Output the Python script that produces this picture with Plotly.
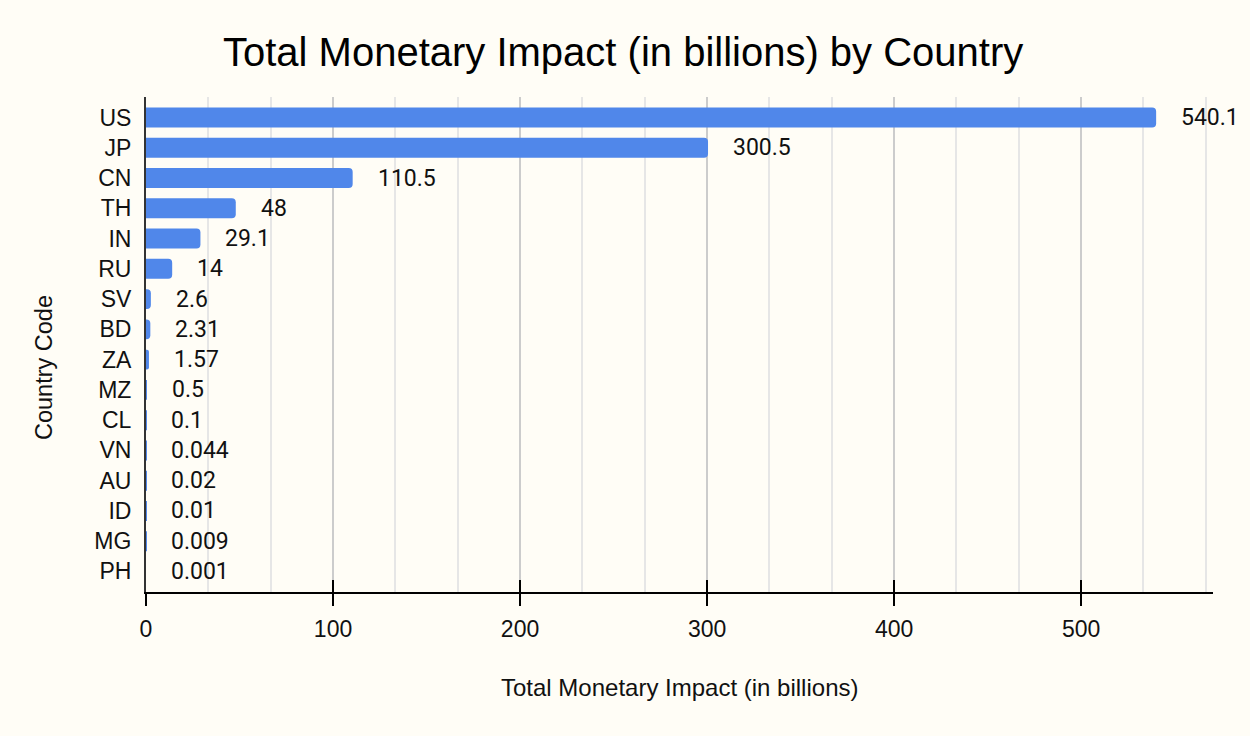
import plotly.graph_objects as go

countries = ["US", "JP", "CN", "TH", "IN", "RU", "SV", "BD", "ZA", "MZ", "CL", "VN", "AU", "ID", "MG", "PH"]
impact = [540.1, 300.5, 110.5, 48, 29.1, 14, 2.6, 2.31, 1.57, 0.5, 0.1, 0.044, 0.02, 0.01, 0.009, 0.001]
x_ticks = [0, 100, 200, 300, 400, 500]

BG = "#FFFDF6"
BAR = "#5087EA"
TXT = "#111111"
ARIAL = "Liberation Sans, Arial, sans-serif"
LABEL_FONT = "Roboto, Liberation Sans, sans-serif"

fig = go.Figure()
fig.add_trace(go.Bar(
    x=impact, y=countries, orientation="h",
    marker=dict(color=BAR, line=dict(width=0), cornerradius=4),
    hoverinfo="x+y", showlegend=False,
))
# invisible trace so the overlay axis (inner half of tick marks) is drawn
fig.add_trace(go.Scatter(x=[x_ticks[0]], y=[countries[0]], xaxis="x2", mode="markers",
                         marker=dict(opacity=0), hoverinfo="skip", showlegend=False))

for v, c in zip(impact, countries):
    fig.add_annotation(x=v, y=c, text=f"{v:g}", showarrow=False, xanchor="left",
                       xshift=23, yshift=0, font=dict(family=LABEL_FONT, size=23, color=TXT))

n = len(countries)
fig.update_layout(
    width=1250, height=736,
    paper_bgcolor=BG, plot_bgcolor=BG,
    margin=dict(l=146, r=37, t=97, b=144),
    bargap=0.34,
    title=dict(text="Total Monetary Impact (in billions) by Country", x=0.4985, xanchor="center",
               y=1 - 52 / 736, yanchor="middle", yref="container",
               font=dict(family=ARIAL, size=40, color="#000000")),
    xaxis=dict(range=[0, 570.5], tickvals=x_ticks, ticks="outside", ticklen=12, tickwidth=2,
               tickcolor="#000000", showline=True, linecolor="#000000", linewidth=2,
               showgrid=True, gridcolor="#CCCCCC", gridwidth=1.5, zeroline=False,
               ticklabelstandoff=3,
               tickfont=dict(family=ARIAL, size=23, color=TXT),
               minor=dict(dtick=100 / 3, tick0=0, showgrid=True, gridcolor="#E6E6E6",
                          gridwidth=1.5, ticks="")),
    xaxis2=dict(overlaying="x", matches="x", side="bottom", ticks="inside", ticklen=12,
                tickwidth=2, tickcolor="#000000", tickvals=x_ticks, showticklabels=False,
                showgrid=False, showline=False, zeroline=False),
    yaxis=dict(type="category", categoryorder="array", categoryarray=countries,
               range=[n - 1 + 0.68, -0.68], showline=True, linecolor="#333333", linewidth=2,
               showgrid=False, zeroline=False, ticks="", ticklabelstandoff=8,
               tickfont=dict(family=ARIAL, size=23, color=TXT)),
)

fig.add_annotation(text="Total Monetary Impact (in billions)", xref="paper", yref="paper",
                   x=0.5, y=-(687 - 592) / (736 - 97 - 144), xanchor="center", yanchor="middle",
                   showarrow=False, font=dict(family=ARIAL, size=24, color=TXT))
fig.add_annotation(text="Country Code", xref="paper", yref="paper", textangle=-90,
                   x=-(146 - 44) / (1250 - 146 - 37), y=(592 - 368) / (736 - 97 - 144),
                   xanchor="center", yanchor="middle", showarrow=False,
                   font=dict(family=ARIAL, size=23.5, color=TXT))

fig.write_html("out.html", config={"displayModeBar": False},
               post_script="document.body.style.margin='0';")
